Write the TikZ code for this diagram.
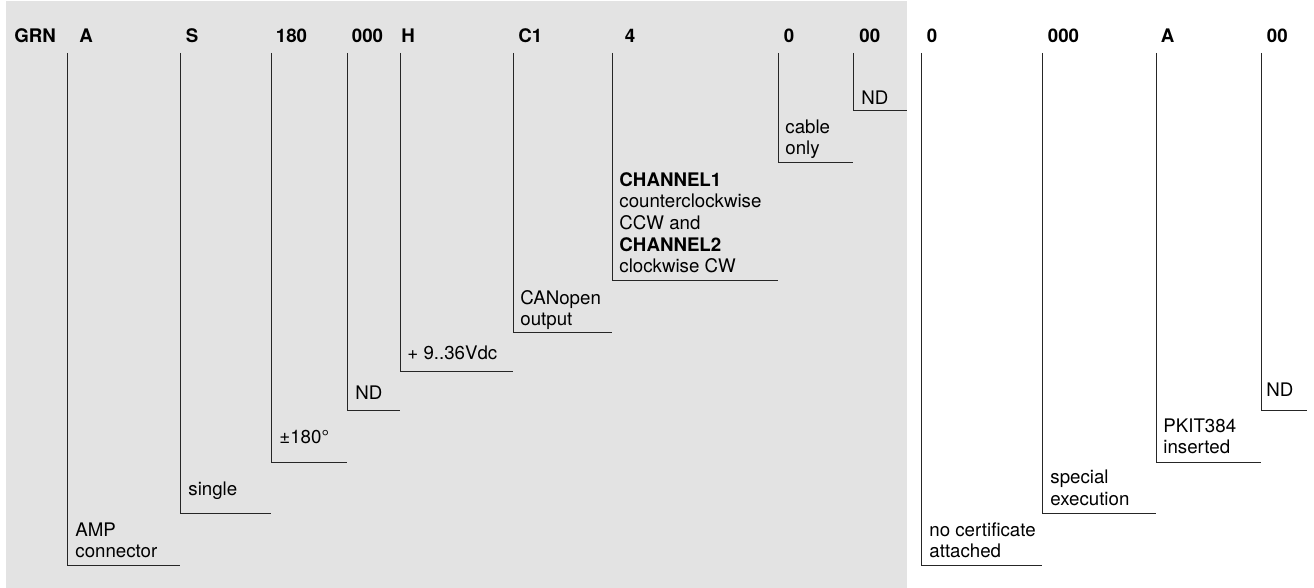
\documentclass[tikz,border=0pt]{standalone}
\usepackage{fontspec}
\setmainfont{TeX Gyre Heros}
\usetikzlibrary{positioning}

\tikzset{
    code/.style={font=\bfseries\fontsize{9.35}{10.85}\selectfont, anchor=base west, inner sep=0pt},
    desc/.style={font=\fontsize{9.35}{10.85}\selectfont, anchor=base west, inner sep=0pt, align=left},
    leg/.style={draw=black!85, line width=0.5pt},
}

\begin{document}
\begin{tikzpicture}[x=0.5pt, y=-0.5pt]
    \useasboundingbox (0,0) rectangle (1314,588);
    \fill[gray!22] (6,1) rectangle (907,588);

    % code letters
    \node[code] (grn) at (14,42.5) {GRN};
    \node[code] (a)   at (79,42.5) {A};
    \node[code] (s)   at (185.5,42.5) {S};
    \node[code] (deg) at (275.5,42.5) {180};
    \node[code] (nd)  at (351.5,42.5) {000};
    \node[code] (h)   at (401,42.5) {H};
    \node[code] (c)   at (518,42.5) {C1};
    \node[code] (ch)  at (624.5,42.5) {4};
    \node[code] (cab) at (783.5,42.5) {0};
    \node[code] (ndb) at (859,42.5) {00};
    \node[code] (cer) at (926.5,42.5) {0};
    \node[code] (spe) at (1047.5,42.5) {000};
    \node[code] (kit) at (1160.5,42.5) {A};
    \node[code] (ndc) at (1266.5,42.5) {00};

    % tops of the legs
    \coordinate (la)   at (67,53);
    \coordinate (ls)   at (180,53);
    \coordinate (ldeg) at (271,53);
    \coordinate (lnd)  at (347,53);
    \coordinate (lh)   at (400,53);
    \coordinate (lc)   at (513,53);
    \coordinate (lch)  at (612,53);
    \coordinate (lcab) at (778,53);
    \coordinate (lndb) at (853,53);
    \coordinate (lgr)  at (907,53);
    \coordinate (lcer) at (921,53);
    \coordinate (lspe) at (1042,53);
    \coordinate (lkit) at (1156,53);
    \coordinate (lndc) at (1261,53);
    \coordinate (lend) at (1307,53);

    % meanings (anchored at the baseline of the last line)
    \node[desc] (da)   at (75,558)    {AMP\\connector};
    \node[desc] (ds)   at (188,496)   {single};
    \node[desc] (ddeg) at (279,444)   {±180°};
    \node[desc] (dnd)  at (355,400)   {ND};
    \node[desc] (dh)   at (407,360)   {+ 9..36Vdc};
    \node[desc] (dc)   at (520,326)   {CANopen\\output};
    \node[desc] (dch)  at (619,273)   {\textbf{CHANNEL1}\\counterclockwise\\CCW and\\\textbf{CHANNEL2}\\clockwise CW};
    \node[desc] (dcab) at (785,155)   {cable\\only};
    \node[desc] (dndb) at (861,104.5) {ND};
    \node[desc] (dcer) at (929,558)   {no certificate\\attached};
    \node[desc] (dspe) at (1050,505.5) {special\\execution};
    \node[desc] (dkit) at (1163,454)  {PKIT384\\inserted};
    \node[desc] (dndc) at (1266,397)  {ND};

    % legs
    \foreach \p/\q/\lev in {la/ls/566, ls/ldeg/514, ldeg/lnd/463, lnd/lh/411,
        lh/lc/372, lc/lch/333, lch/lcab/281, lcab/lndb/163, lndb/lgr/111,
        lcer/lspe/566, lspe/lkit/514, lkit/lndc/463, lndc/lend/411}
        \draw[leg] (\p) |- (\q |- 0,\lev);
\end{tikzpicture}
\end{document}
